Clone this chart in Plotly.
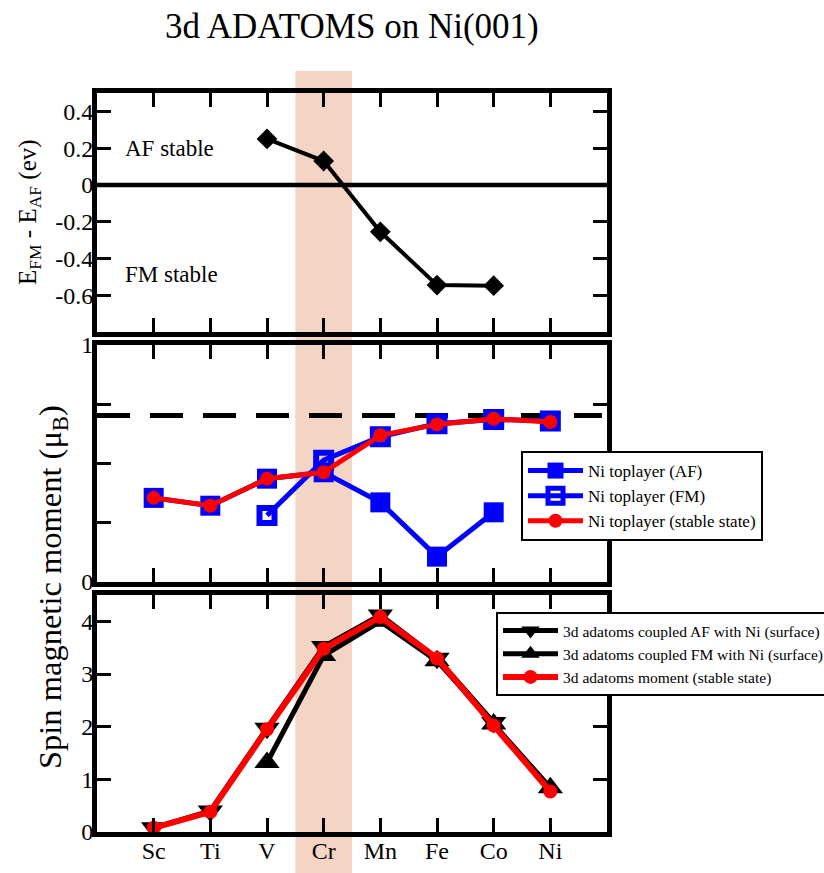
import plotly.graph_objects as go

W, H = 824, 873

# ---------------- data ----------------
elements = ["Sc", "Ti", "V", "Cr", "Mn", "Fe", "Co", "Ni"]
elem_pos = [1, 2, 3, 4, 5, 6, 7, 8]

# top panel: E_FM - E_AF (eV)
energy_elems = ["V", "Cr", "Mn", "Fe", "Co"]
energy_diff = [0.25, 0.13, -0.255, -0.545, -0.548]

# middle panel: Ni top-layer moment
ni_af_elems = ["Sc", "Ti", "V", "Cr", "Mn", "Fe", "Co"]
ni_af = [0.355, 0.322, 0.436, 0.463, 0.336, 0.107, 0.294]
ni_fm_elems = ["V", "Cr", "Mn", "Fe", "Co", "Ni"]
ni_fm = [0.281, 0.514, 0.613, 0.668, 0.686, 0.679]
ni_stable = [0.355, 0.322, 0.436, 0.463, 0.619, 0.665, 0.689, 0.675]
ni_bulk_ref = 0.703

# bottom panel: adatom moment
ad_af_elems = ["Sc", "Ti", "V", "Cr", "Mn", "Fe", "Co"]
ad_af = [0.08, 0.40, 1.97, 3.52, 4.12, 3.30, 2.08]
ad_fm_elems = ["V", "Cr", "Mn", "Fe", "Co", "Ni"]
ad_fm = [1.32, 3.35, 4.00, 3.25, 2.05, 0.84]
ad_stable = [0.08, 0.38, 1.95, 3.48, 4.08, 3.30, 2.02, 0.77]

highlight_elem = "Cr"
zero_level = 0

top_ticks = [-0.6, -0.4, -0.2, 0, 0.2, 0.4]
top_ticklabels = ["-0.6", "-0.4", "-0.2", "0", "0.2", "0.4"]
mid_ticks = [0, 0.25, 0.5, 0.75, 1]
mid_ticklabels = ["0", "", "", "", "1"]
bot_ticks = [0, 1, 2, 3, 4]
bot_ticklabels = ["0", "1", "2", "3", "4"]

# ---------------- layout helpers ----------------
def px_x(p):
    return p / W

def px_y(p):
    return 1 - p / H

pos = dict(zip(elements, elem_pos))
FONT = "Liberation Serif"
BLUE = "#0000FF"
RED = "#FF0000"

fig = go.Figure()

# top panel
fig.add_trace(go.Scatter(
    x=[pos[e] for e in energy_elems], y=energy_diff, mode="lines+markers",
    line=dict(color="black", width=4),
    marker=dict(symbol="diamond", size=16, color="black"),
    xaxis="x", yaxis="y", showlegend=False))

# middle panel
fig.add_trace(go.Scatter(
    x=[pos[e] for e in ni_af_elems], y=ni_af, mode="lines+markers",
    name="Ni toplayer (AF)",
    line=dict(color=BLUE, width=5),
    marker=dict(symbol="square", size=20, color=BLUE),
    xaxis="x2", yaxis="y2", legend="legend", legendgroup="a"))
fig.add_trace(go.Scatter(
    x=[pos[e] for e in ni_fm_elems], y=ni_fm, mode="lines+markers",
    name="Ni toplayer (FM)",
    line=dict(color=BLUE, width=5),
    marker=dict(symbol="square-open", size=15, color=BLUE,
                line=dict(color=BLUE, width=6)),
    xaxis="x2", yaxis="y2", legend="legend", legendgroup="b"))
fig.add_trace(go.Scatter(
    x=elem_pos, y=ni_stable, mode="lines+markers",
    name="Ni toplayer (stable state)",
    line=dict(color=RED, width=5),
    marker=dict(symbol="circle", size=14, color=RED),
    xaxis="x2", yaxis="y2", legend="legend", legendgroup="c"))

# bottom panel
fig.add_trace(go.Scatter(
    x=[pos[e] for e in ad_af_elems], y=ad_af, mode="lines+markers",
    name="3d adatoms coupled AF with Ni (surface)",
    line=dict(color="black", width=5),
    marker=dict(symbol="triangle-down", size=22, color="black"),
    xaxis="x3", yaxis="y3", legend="legend2", legendgroup="d"))
fig.add_trace(go.Scatter(
    x=[pos[e] for e in ad_fm_elems], y=ad_fm, mode="lines+markers",
    name="3d adatoms coupled FM with Ni (surface)",
    line=dict(color="black", width=5),
    marker=dict(symbol="triangle-up", size=22, color="black"),
    xaxis="x3", yaxis="y3", legend="legend2", legendgroup="e"))
fig.add_trace(go.Scatter(
    x=elem_pos, y=ad_stable, mode="lines+markers",
    name="3d adatoms moment (stable state)",
    line=dict(color=RED, width=6),
    marker=dict(symbol="circle", size=14, color=RED),
    xaxis="x3", yaxis="y3", legend="legend2", legendgroup="f"))

xdom = [px_x(97), px_x(607)]
ydoms = {
    "": [px_y(332), px_y(93)],
    "2": [px_y(582), px_y(345)],
    "3": [px_y(832), px_y(595)],
}

axis_common = dict(showline=True, linecolor="black", linewidth=5, mirror="ticks",
                   ticks="inside", ticklen=14, tickwidth=2.5, tickcolor="black",
                   showgrid=False, zeroline=False, automargin=False,
                   tickfont=dict(family=FONT, size=24, color="black"))

layout = dict(
    width=W, height=H, autosize=False,
    margin=dict(l=0, r=0, t=0, b=0, autoexpand=False),
    paper_bgcolor="white", plot_bgcolor="rgba(0,0,0,0)",
    font=dict(family=FONT, color="black"),
)
for k, dom in ydoms.items():
    anchor_y = "y" + k
    anchor_x = "x" + k
    layout["xaxis" + k] = dict(axis_common, domain=xdom, range=[0, 9],
                               tickvals=elem_pos,
                               ticktext=elements if k == "3" else [""] * len(elements),
                               anchor=anchor_y, fixedrange=True, ticklabelstandoff=-7)
    layout["yaxis" + k] = dict(axis_common, domain=dom, anchor=anchor_x, fixedrange=True,
                               ticklabelstandoff=-6)

layout["yaxis"].update(range=[-0.8, 0.5], tickvals=top_ticks, ticktext=top_ticklabels)
layout["yaxis2"].update(range=[0, 1], tickvals=mid_ticks, ticktext=mid_ticklabels)
layout["yaxis3"].update(range=[0, 4.5], tickvals=bot_ticks, ticktext=bot_ticklabels)

layout["legend"] = dict(x=px_x(521), y=px_y(451), xanchor="left", yanchor="top",
                        bgcolor="white", bordercolor="black", borderwidth=2,
                        font=dict(family=FONT, size=17, color="black"),
                        tracegroupgap=0, itemwidth=55)
layout["legend2"] = dict(x=px_x(496), y=px_y(612), xanchor="left", yanchor="top",
                         bgcolor="white", bordercolor="black", borderwidth=2,
                         font=dict(family=FONT, size=15.5, color="black"),
                         tracegroupgap=0, itemwidth=55)
fig.update_layout(**layout)

# highlight band for Cr
hx = pos[highlight_elem]
fig.add_shape(type="rect", xref="x", yref="paper", x0=hx - 0.5, x1=hx + 0.5,
              y0=0, y1=px_y(71), fillcolor="#F4D4C4", line=dict(width=0), layer="below")
# zero line (top panel)
fig.add_shape(type="line", xref="x domain", yref="y", x0=0, x1=1, y0=zero_level, y1=zero_level,
              line=dict(color="black", width=4.5))
# Ni bulk reference (middle)
fig.add_shape(type="line", xref="x2 domain", yref="y2", x0=0, x1=0.99, y0=ni_bulk_ref, y1=ni_bulk_ref,
              line=dict(color="black", width=5, dash="33px,20px"), layer="below")

# texts
fig.add_annotation(text="3d ADATOMS on Ni(001)", xref="paper", yref="paper",
                   x=px_x(352), y=px_y(26), xanchor="center", yanchor="middle",
                   showarrow=False, font=dict(family=FONT, size=35, color="black"))
fig.add_annotation(text="AF stable", xref="x domain", yref="y",
                   x=0.05, y=0.2, xanchor="left", yanchor="middle",
                   showarrow=False, font=dict(family=FONT, size=23, color="black"))
fig.add_annotation(text="FM stable", xref="x domain", yref="y",
                   x=0.05, y=-0.485, xanchor="left", yanchor="middle",
                   showarrow=False, font=dict(family=FONT, size=23, color="black"))
fig.add_annotation(text="E<sub>FM</sub> - E<sub>AF</sub> (ev)", xref="paper", yref="paper",
                   x=px_x(29), y=px_y(212), xanchor="center", yanchor="middle", textangle=-90,
                   showarrow=False, font=dict(family=FONT, size=25, color="black"))
fig.add_annotation(text="Spin magnetic moment (\u03bc<sub>B</sub>)", xref="paper", yref="paper",
                   x=px_x(52), y=px_y(587), xanchor="center", yanchor="middle", textangle=-90,
                   showarrow=False, font=dict(family=FONT, size=32.5, color="black"))

fig.write_html("out.html", config={"displayModeBar": False},
               post_script="document.body.style.margin='0';")
